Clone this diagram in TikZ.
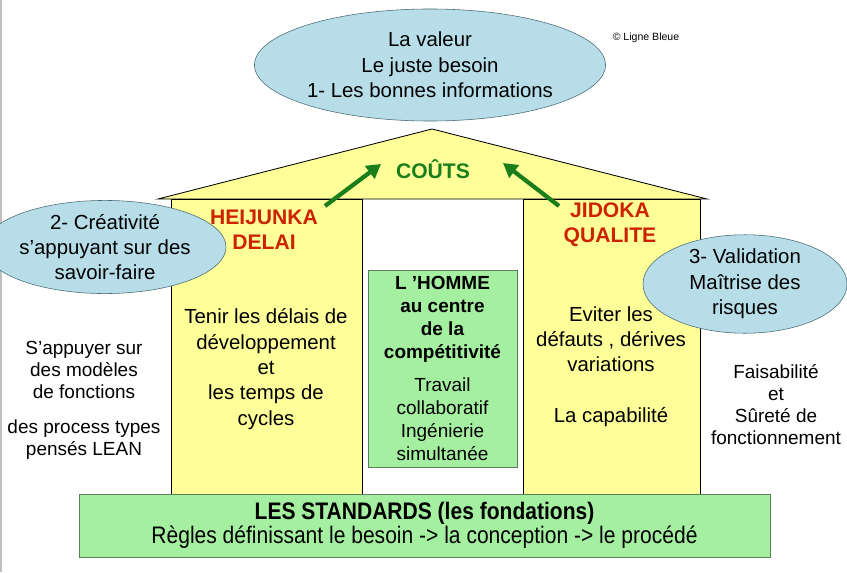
\documentclass[tikz,border=0pt]{standalone}
\usepackage{fontspec}
\setmainfont{Liberation Sans}
\newfontfamily\narrowfont[FakeStretch=0.88]{Liberation Sans}
\definecolor{PillarYellow}{HTML}{FFFF99}
\definecolor{BubbleBlue}{HTML}{B7DEE8}
\definecolor{BubbleEdge}{HTML}{4A6A74}
\definecolor{BaseGreen}{HTML}{A4F0A0}
\definecolor{BaseEdge}{HTML}{5A7F5A}
\definecolor{TitleRed}{HTML}{CC2200}
\definecolor{CostGreen}{HTML}{1A7F1A}
\usetikzlibrary{shapes.geometric, arrows.meta}

\begin{document}
\begin{tikzpicture}[x=0.025cm, y=-0.025cm,
    bulle/.style={ellipse, draw=BubbleEdge, fill=BubbleBlue, inner sep=0pt, align=center, font=\fontsize{14.5}{18}\selectfont},
    titre/.style={align=center, text=TitleRed, font=\bfseries\fontsize{15}{17.7}\selectfont},
    corps/.style={align=center, font=\fontsize{14.5}{18}\selectfont},
    marge/.style={align=center, font=\fontsize{13.5}{15.7}\selectfont},
    fleche/.style={-{Triangle[length=10pt,width=11pt]}, line width=3pt, CostGreen}]

    \useasboundingbox (0,0) rectangle (847,572);
    \draw [gray!50, line width=1pt] (1,0) -- (1,572);

    \coordinate (RoofL) at (158,199);
    \coordinate (Apex) at (432,129);
    \coordinate (RoofR) at (707,199);

    % toit et piliers
    \draw [fill=PillarYellow, line width=0.6pt] (RoofL) -- (Apex) -- (RoofR) -- cycle;
    \draw [fill=PillarYellow, line width=0.6pt] (171,199) rectangle (362,494);
    \draw [fill=PillarYellow, line width=0.6pt] (523,199) rectangle (700,494);

    \node [draw=BaseEdge, fill=BaseGreen, minimum width=3.725cm, minimum height=4.925cm, inner sep=0pt, align=center,
           font=\fontsize{13.5}{16.3}\selectfont] (homme) at (442.5,368.5)
          {\textbf{L 'HOMME}\\ \textbf{au centre}\\ \textbf{de la}\\ \textbf{compétitivité}\\[7pt]
           Travail\\ collaboratif\\ Ingénierie\\ simultanée};

    \node [draw=BaseEdge, fill=BaseGreen, minimum width=17.275cm, minimum height=1.575cm, inner sep=0pt, align=center,
           font=\narrowfont\fontsize{17}{17.5}\selectfont] (standards) at (424.5,525.5)
          {\textbf{LES STANDARDS (les fondations)}\\ Règles définissant le besoin -> la conception -> le procédé};

    % bulles
    \node [bulle, minimum width=8.775cm, minimum height=2.8cm] (valeur) at (430,65)
          {La valeur\\ Le juste besoin\\ 1- Les bonnes informations};
    \node [bulle, minimum width=5.1cm, minimum height=2.1cm] (creativite) at (105,247)
          {2- Créativité\\ s’appuyant sur des\\ savoir-faire};
    \node [bulle, minimum width=5.1cm, minimum height=2.15cm] (validation) at (745,284)
          {3- Validation\\ Maîtrise des\\ risques};

    \node [font=\fontsize{7.5}{9}\selectfont] (copyright) at (646,38) {© Ligne Bleue};

    \node [text=CostGreen, font=\bfseries\fontsize{15}{18}\selectfont] (couts) at (433,169) {COÛTS};
    \node [titre] (delai) at (264,229.5) {HEIJUNKA\\ DELAI};
    \node [titre] (qualite) at (610,225) {JIDOKA\\ QUALITE};

    \node [corps] (tenir) at (266,369)
          {Tenir les délais de\\ développement\\ et\\ les temps de\\ cycles};
    \node [corps] (eviter) at (611,366.5)
          {Eviter les\\ défauts , dérives\\ variations\\[18pt] La capabilité};

    \node [marge] (modeles) at (84,400)
          {S’appuyer sur\\ des modèles\\ de fonctions\\[9pt] des process types\\ pensés LEAN};
    \node [marge] (surete) at (776,404.5)
          {Faisabilité\\ et\\ Sûreté de\\ fonctionnement};

    % fleches vers les couts
    \coordinate (departG) at (325,206);
    \coordinate (pointeG) at (381,164);
    \coordinate (departD) at (559,206);
    \coordinate (pointeD) at (503,163);
    \draw [fleche] (departG) -- (pointeG);
    \draw [fleche] (departD) -- (pointeD);

\end{tikzpicture}
\end{document}
